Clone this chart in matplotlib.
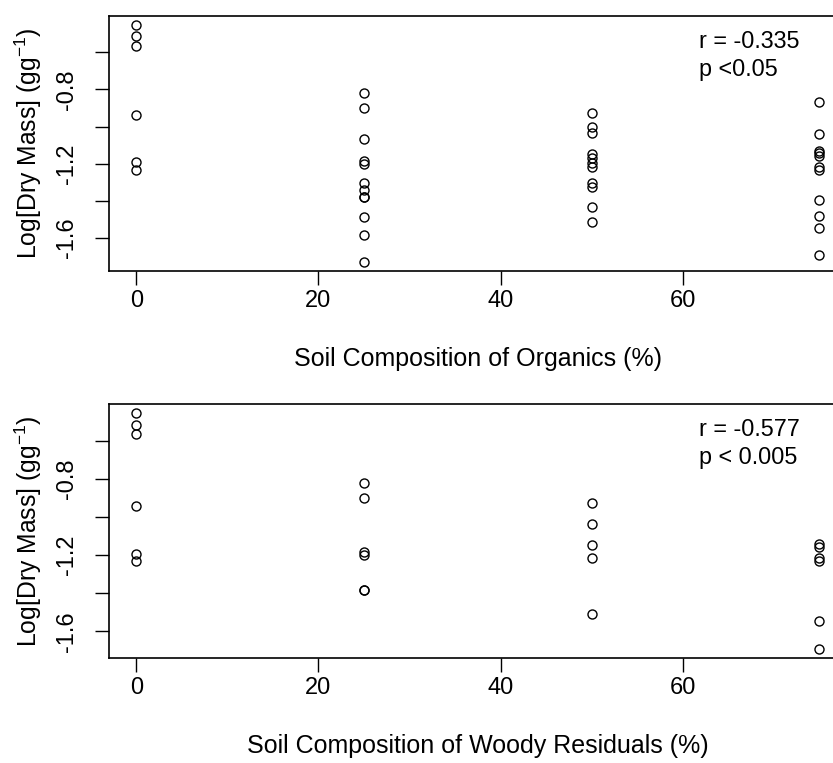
import numpy as np
import matplotlib
matplotlib.use("Agg")
import matplotlib.pyplot as plt

plt.rcParams['font.family'] = ['Liberation Sans', 'DejaVu Sans']
plt.rcParams['mathtext.default'] = 'regular'
plt.rcParams['axes.unicode_minus'] = False

# soil composition treatments (%)
levels = [0, 25, 50, 75]

# log dry mass per treatment, organics series
org_0 = [-0.456, -0.515, -0.565, -0.940, -1.192, -1.233]
org_25 = [-0.820, -0.898, -1.066, -1.184, -1.200, -1.304, -1.340, -1.381,
          -1.381, -1.489, -1.582, -1.726]
org_50 = [-0.928, -1.000, -1.035, -1.147, -1.170, -1.197, -1.215, -1.301,
          -1.323, -1.430, -1.511]
org_75 = [-0.869, -1.041, -1.129, -1.143, -1.158, -1.215, -1.233, -1.394,
          -1.480, -1.546, -1.690]

# log dry mass per treatment, woody residuals series
wood_0 = [-0.456, -0.515, -0.565, -0.940, -1.192, -1.233]
wood_25 = [-0.820, -0.898, -1.184, -1.200, -1.381, -1.381]
wood_50 = [-0.928, -1.035, -1.147, -1.215, -1.511]
wood_75 = [-1.143, -1.158, -1.215, -1.233, -1.546, -1.690]

xticks = [0, 20, 40, 60]
yticks = [-1.6, -1.4, -1.2, -1.0, -0.8, -0.6]
ylabels = ['-1.6', '', '-1.2', '', '-0.8', '']

panels = [
    ([org_0, org_25, org_50, org_75], "Soil Composition of Organics (%)",
     "r = -0.335\np <0.05"),
    ([wood_0, wood_25, wood_50, wood_75], "Soil Composition of Woody Residuals (%)",
     "r = -0.577\np < 0.005"),
]

W, H = 833, 763
fig = plt.figure(figsize=(W / 100, H / 100), dpi=100)
# axes boxes in pixels: left, top, right, bottom (right edge runs past the canvas)
boxes = [(109, 16, 846.5, 271), (109, 404, 846.5, 658)]

for (groups, xlab, stats), (l, t, r, b) in zip(panels, boxes):
    ax = fig.add_axes([l / W, 1 - b / H, (r - l) / W, (b - t) / H])
    for lev, vals in zip(levels, groups):
        ax.plot([lev] * len(vals), vals, 'o', mfc='none', mec='black',
                ms=6.5, mew=1.0, ls='none')
    ax.margins(0.04)
    for s in ax.spines.values():
        s.set_linewidth(1.2)
    ax.set_xticks(xticks)
    ax.set_yticks(yticks)
    ax.set_yticklabels(ylabels, rotation=90, va='center')
    ax.tick_params(axis='both', direction='out', length=10, width=1.0,
                   labelsize=17)
    ax.tick_params(axis='x', pad=4)
    ax.tick_params(axis='y', pad=12)
    ax.set_xlabel(xlab, fontsize=18, labelpad=25)
    ax.set_ylabel("Log[Dry Mass] (gg$^{-1}$)", fontsize=17.8, labelpad=9)
    ax.text(0.80, 0.945, stats, transform=ax.transAxes, fontsize=16.8,
            va='top', ha='left', linespacing=1.3)

fig.savefig('out.png', dpi=100)
